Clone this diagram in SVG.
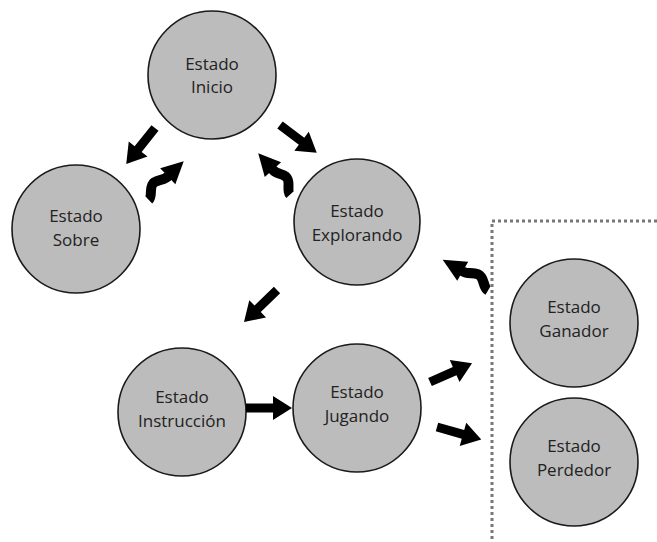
<svg xmlns="http://www.w3.org/2000/svg" width="657" height="542" viewBox="0 0 657 542">
<style>
.st{fill:#bcbcbc;stroke:#1a1a1a;stroke-width:1.6}
.lb{font-family:"Open Sans","Liberation Sans",sans-serif;font-size:17px;fill:#222;text-anchor:middle}
.ar{fill:#000}
.wv{fill:none;stroke:#000;stroke-width:10}
.box{fill:none;stroke:#777;stroke-width:3;stroke-dasharray:3 3}
</style>
<defs>
<polygon id="sa" class="ar" points="0,-4.5 27,-4.5 27,-12 46,0 27,12 27,4.5 0,4.5"/>
<g id="wa"><path class="wv" d="M0,4 C6,4 9,-6 16,-5 C22,-4 25,1 31,0"/><polygon class="ar" points="30,-11 52,0 30,11"/></g>
</defs>
<rect width="657" height="542" fill="#fff"/>
<path class="box" d="M657,221 H492 V542"/>
<g id="inicio"><circle class="st" cx="212" cy="75" r="64"/><text class="lb" x="212" y="70">Estado</text><text class="lb" x="212" y="93">Inicio</text></g>
<g id="sobre"><circle class="st" cx="76" cy="229" r="64"/><text class="lb" x="76" y="222">Estado</text><text class="lb" x="76" y="246">Sobre</text></g>
<g id="explorando"><circle class="st" cx="357" cy="222" r="63"/><text class="lb" x="357" y="217">Estado</text><text class="lb" x="357" y="241">Explorando</text></g>
<g id="ganador"><circle class="st" cx="574" cy="323" r="64"/><text class="lb" x="574" y="313">Estado</text><text class="lb" x="574" y="337">Ganador</text></g>
<g id="perdedor"><circle class="st" cx="574" cy="462" r="64"/><text class="lb" x="574" y="452">Estado</text><text class="lb" x="574" y="476">Perdedor</text></g>
<g id="instruccion"><circle class="st" cx="182" cy="412" r="64"/><text class="lb" x="182" y="403">Estado</text><text class="lb" x="182" y="427">Instrucción</text></g>
<g id="jugando"><circle class="st" cx="357" cy="408" r="64"/><text class="lb" x="357" y="398">Estado</text><text class="lb" x="357" y="422">Jugando</text></g>
<g id="connectors">
<use href="#sa" transform="translate(155,128) rotate(128.7)"/>
<use href="#wa" transform="translate(146,197) rotate(-43.5)"/>
<use href="#sa" transform="translate(280,125) rotate(37)"/>
<use href="#wa" transform="translate(293,192) rotate(-132) scale(1,-1)"/>
<use href="#wa" transform="translate(490,287) rotate(-150) scale(1.05,-1)"/>
<use href="#sa" transform="translate(277,290) rotate(135.8)"/>
<use href="#sa" transform="translate(246,408)"/>
<use href="#sa" transform="translate(430,382) rotate(-24)"/>
<use href="#sa" transform="translate(437,427) rotate(15.8)"/>
</g>
</svg>
